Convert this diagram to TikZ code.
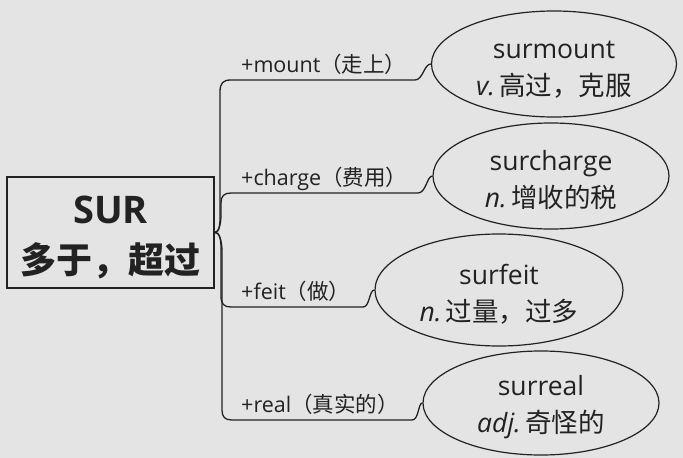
\documentclass[tikz,border=0pt]{standalone}
\usepackage{fontspec}
\setmainfont{Open Sans}
\newfontfamily\cjk{Noto Sans CJK SC}
\usetikzlibrary{shapes.geometric}
\definecolor{bgc}{RGB}{228,228,228}
\definecolor{ink}{RGB}{34,34,34}
\newcommand{\topstrut}{\rule{0pt}{29pt}}
\tikzset{
  leaf/.style={ellipse, draw=ink, line width=1.2pt, inner sep=0pt, align=center,
    font=\fontsize{26.5}{37}\selectfont, text=ink},
  rootbox/.style={rectangle, draw=ink, line width=2pt, minimum width=207pt,
    minimum height=111pt, inner sep=0pt, align=center,
    font=\fontsize{36}{50}\selectfont\bfseries, text=ink},
  lbl/.style={anchor=base west, inner sep=0pt, font=\fontsize{21.5}{24}\selectfont, text=ink},
  conn/.style={draw=ink, line width=1.3pt},
}
\begin{document}
\begin{tikzpicture}[x=1pt,y=-1pt]
\fill[bgc] (0,0) rectangle (683,458);
\useasboundingbox (0,0) rectangle (683,458);

\node[rootbox] (root) at (110.5,232.5) {\rule{0pt}{38pt}{\fontsize{38}{50}\selectfont SUR}\\{\cjk 多于，超过}};

\node[leaf, minimum width=245pt, minimum height=106pt] (e1) at (554,64)
  {\topstrut surmount\\\textit{v.}\,{\cjk 高过，克服}};
\node[leaf, minimum width=236pt, minimum height=106pt] (e2) at (551,176)
  {\topstrut surcharge\\\textit{n.}\,{\cjk 增收的税}};
\node[leaf, minimum width=248pt, minimum height=112pt] (e3) at (499,290)
  {\topstrut surfeit\\\textit{n.}\,{\cjk 过量，过多}};
\node[leaf, minimum width=236pt, minimum height=104pt] (e4) at (541,403)
  {\topstrut surreal\\\textit{adj.}\,{\cjk 奇怪的}};

\node[lbl] (l1) at (241,72) {+mount{\cjk （走上）}};
\node[lbl] (l2) at (241,185) {+charge{\cjk （费用）}};
\node[lbl] (l3) at (241,299) {+feit{\cjk （做）}};
\node[lbl] (l4) at (241,412) {+real{\cjk （真实的）}};

\draw[conn] (root.east) .. controls (219,232) and (220,226) .. (220,218) -- (220,92)
  .. controls (220,83) and (223,80) .. (231,80) -- (415,80)
  .. controls (423,80) and (424,64) .. (e1.west);
\draw[conn] (root.east) .. controls (219,232) and (221,224) .. (221,214) -- (221,203)
  .. controls (221,196) and (224,193) .. (231,193) -- (418,193)
  .. controls (426,193) and (427,176) .. (e2.west);
\draw[conn] (root.east) .. controls (219,232) and (221,238) .. (221,248) -- (221,296)
  .. controls (221,304) and (224,307) .. (231,307) -- (363,307)
  .. controls (370,307) and (369,290) .. (e3.west);
\draw[conn] (root.east) .. controls (219,232) and (222,240) .. (222,252) -- (222,410)
  .. controls (222,417) and (225,420) .. (232,420) -- (412,420)
  .. controls (419,420) and (418,403) .. (e4.west);
\end{tikzpicture}
\end{document}
